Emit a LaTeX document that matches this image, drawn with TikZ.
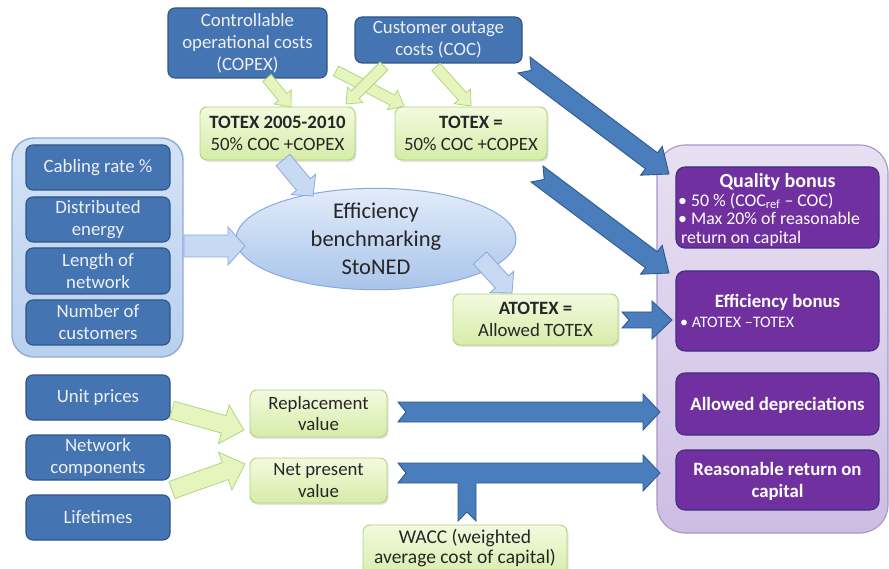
\documentclass[tikz,border=0pt]{standalone}
\usepackage{fontspec}
\setmainfont{Carlito}
\usetikzlibrary{shapes.geometric,shadows}

\definecolor{dkblue}{HTML}{4574B2}
\definecolor{dkblueline}{HTML}{2E5588}
\definecolor{boxtext}{HTML}{EDF0F5}
\definecolor{grtop}{HTML}{F4FADF}
\definecolor{grbot}{HTML}{D6ECA8}
\definecolor{grline}{HTML}{B2D27A}
\definecolor{purp}{HTML}{7030A0}
\definecolor{purpline}{HTML}{3E2F80}
\definecolor{lavtop}{HTML}{E8E0F2}
\definecolor{lavbot}{HTML}{CDBDE3}
\definecolor{lavline}{HTML}{A896C8}
\definecolor{lbtop}{HTML}{D4E3F6}
\definecolor{lbbot}{HTML}{B9D0EE}
\definecolor{lbline}{HTML}{8EABDA}
\definecolor{elltop}{HTML}{E2ECFA}
\definecolor{ellbot}{HTML}{A9C4EA}
\definecolor{bigarrow}{HTML}{4A7DBB}
\definecolor{bigarrowline}{HTML}{2D5A92}
\definecolor{lbarrow}{HTML}{C8DAF3}
\definecolor{lbarrowline}{HTML}{8AA9DA}
\definecolor{grarrow}{HTML}{E6F4BE}
\definecolor{grarrowline}{HTML}{B6D57E}

% Block arrow from #2 (tail) to #3 (tip):
% #4 shaft half width, #5 head half width, #6 head length, #7 tail notch depth
\newcommand\blockarrow[7][]{%
  \path (#2); \pgfgetlastxy{\baXa}{\baYa}%
  \path (#3); \pgfgetlastxy{\baXb}{\baYb}%
  \pgfmathsetmacro\baAng{atan2(\baYb-\baYa,\baXb-\baXa)}%
  \pgfmathsetmacro\baLen{veclen(\baXb-\baXa,\baYb-\baYa)}%
  \pgfmathsetmacro\baNeck{\baLen-#6}%
  \begin{scope}[shift={(#2)}, rotate=\baAng, x=1pt, y=1pt]
    \draw[#1] (0,-#4) -- (\baNeck,-#4) -- (\baNeck,-#5) -- (\baLen,0)
      -- (\baNeck,#5) -- (\baNeck,#4) -- (0,#4) -- (#7,0) -- cycle;
  \end{scope}}

\tikzset{
  bluebox/.style={draw=dkblueline, line width=1.1pt, fill=dkblue, rounded corners=7pt,
    text=boxtext, align=center, inner sep=0pt, font=\fontsize{18.8}{22}\selectfont},
  greenbox/.style={draw=grline, line width=0.9pt, top color=grtop, bottom color=grbot,
    rounded corners=7pt, align=center, inner sep=0pt, text=black!85,
    font=\fontsize{18.8}{21.5}\selectfont,
    drop shadow={opacity=0.22, shadow xshift=1.5pt, shadow yshift=-1.8pt}},
  purplebox/.style={draw=purpline, line width=1.1pt, fill=purp, rounded corners=9pt,
    inner sep=0pt},
  purpletitle/.style={text=white, font=\bfseries\fontsize{18.8}{22}\selectfont,
    align=center, inner sep=0pt},
  purplebullet/.style={text=white, font=\fontsize{16}{18.5}\selectfont,
    align=left, inner sep=0pt},
  bigarrowstyle/.style={draw=bigarrowline, line width=0.9pt, fill=bigarrow, line join=miter},
  lbarrowstyle/.style={draw=lbarrowline, line width=0.8pt, fill=lbarrow},
  grarrowstyle/.style={draw=grarrowline, line width=0.8pt, fill=grarrow}
}

\begin{document}
\begin{tikzpicture}[x=1pt,y=-1pt]
\useasboundingbox (0,0) rectangle (889,569);
\clip (0,0) rectangle (889,569);
\fill[white] (0,0) rectangle (889,569);

% containers
\node[draw=lbline, line width=1.4pt, top color=lbtop, bottom color=lbbot,
  rounded corners=22pt, minimum width=171pt, minimum height=219pt] (drivers) at (97.5,247.5) {};
\node[draw=lavline, line width=1.1pt, top color=lavtop, bottom color=lavbot,
  rounded corners=28pt, minimum width=231pt, minimum height=388pt] (outcome) at (772.5,339) {};

% cost inputs
\node[bluebox, minimum width=159pt, minimum height=70pt] (copex) at (247.5,43)
  {Controllable\\operational costs\\(COPEX)};
\node[bluebox, minimum width=167pt, minimum height=46pt] (coc) at (438.5,40)
  {Customer outage\\costs (COC)};

% totex boxes
\node[greenbox, minimum width=155pt, minimum height=53pt] (totexold) at (277.5,133.5)
  {\textbf{TOTEX 2005-2010}\\50\% COC +COPEX};
\node[greenbox, minimum width=152pt, minimum height=53pt] (totex) at (471,133.5)
  {\textbf{TOTEX =}\\50\% COC +COPEX};

% cost drivers
\node[bluebox, minimum width=144pt, minimum height=45pt] (cabling) at (98,167.5) {Cabling rate \%};
\node[bluebox, minimum width=144pt, minimum height=45pt] (distrib) at (98,219.5) {Distributed\\energy};
\node[bluebox, minimum width=144pt, minimum height=46pt] (length) at (98,271) {Length of\\network};
\node[bluebox, minimum width=144pt, minimum height=45pt] (customers) at (98,322.5) {Number of\\customers};

% benchmarking
\node[ellipse, draw=lbarrowline, line width=1pt, top color=elltop, bottom color=ellbot,
  minimum width=280pt, minimum height=98pt, inner sep=0pt, align=center,
  font=\fontsize{22.5}{28}\selectfont, text=black!85] (stoned) at (376,239)
  {Efficiency\\benchmarking\\StoNED};

\node[greenbox, minimum width=165pt, minimum height=51pt] (atotex) at (535.5,319.5)
  {\textbf{ATOTEX =}\\Allowed TOTEX};

% asset valuation
\node[bluebox, minimum width=144pt, minimum height=45pt] (unit) at (98,397.5) {Unit prices};
\node[bluebox, minimum width=144pt, minimum height=45pt] (netcomp) at (98,457.5) {Network\\components};
\node[bluebox, minimum width=144pt, minimum height=45pt] (lifetimes) at (98,517.5) {Lifetimes};

\node[greenbox, minimum width=137pt, minimum height=47pt] (replval) at (318.5,413.5)
  {Replacement\\value};
\node[greenbox, minimum width=137pt, minimum height=45pt] (npv) at (318.5,480.5)
  {Net present\\value};
\node[greenbox, minimum width=204pt, minimum height=54pt] (wacc) at (465,552) {};
\node[align=center, inner sep=0pt, text=black!85, font=\fontsize{19.5}{20.5}\selectfont]
  (wacct) at (465,548) {WACC (weighted\\average cost of capital)};

% revenue components
\node[purplebox, minimum width=203pt, minimum height=81pt] (quality) at (777.5,207.5) {};
\node[purpletitle, font=\bfseries\fontsize{20}{22}\selectfont] (qualityt) at (777.5,182) {Quality bonus};
\node[purplebullet, anchor=north west, font=\fontsize{17.8}{18.6}\selectfont] (qualityb) at (678,193)
  {• 50 \% (COC\textsubscript{ref} – COC)\\• Max 20\% of reasonable\\\hspace*{3pt}return on capital};

\node[purplebox, minimum width=203pt, minimum height=80pt] (effbonus) at (777.5,311) {};
\node[purpletitle] (effbonust) at (777.5,302) {Efficiency bonus};
\node[purplebullet, anchor=west] (effbonusb) at (680,322) {• ATOTEX –TOTEX};

\node[purplebox, minimum width=203pt, minimum height=62pt] (depr) at (777.5,404) {};
\node[purpletitle] (deprt) at (777.5,405) {Allowed depreciations};

\node[purplebox, minimum width=203pt, minimum height=60pt] (rrc) at (777.5,480) {};
\node[purpletitle] (rrct) at (777.5,481) {Reasonable return on\\capital};

% arrow end points
\coordinate (g1s) at (267,78);  \coordinate (g1e) at (291,107);
\coordinate (g2s) at (336,71);  \coordinate (g2e) at (404,106);
\coordinate (g3s) at (384,66);  \coordinate (g3e) at (346,104);
\coordinate (g4s) at (436,67);  \coordinate (g4e) at (471,106);
\coordinate (g5s) at (172,410); \coordinate (g5e) at (244,430);
\coordinate (g6s) at (172,490); \coordinate (g6e) at (245,464);
\coordinate (b1s) at (283,160); \coordinate (b1e) at (313,196);
\coordinate (b2s) at (184,246); \coordinate (b2e) at (245,246);
\coordinate (b3s) at (480,258); \coordinate (b3e) at (512,293);
\coordinate (B1s) at (524,65);  \coordinate (B1e) at (669,174);
\coordinate (B2s) at (537,174); \coordinate (B2e) at (669,273);
\coordinate (B3s) at (622,320); \coordinate (B3e) at (672,320);
\coordinate (B4s) at (398,412); \coordinate (B4e) at (660,412);
\coordinate (B5s) at (398,473); \coordinate (B5e) at (660,473);

% light green input arrows
\blockarrow[grarrowstyle]{g1s}{g1e}{5.5}{11}{13}{0}
\blockarrow[grarrowstyle]{g2s}{g2e}{5.5}{11}{13}{0}
\blockarrow[grarrowstyle]{g3s}{g3e}{5.5}{11}{13}{0}
\blockarrow[grarrowstyle]{g4s}{g4e}{5.5}{11}{13}{0}
\blockarrow[grarrowstyle]{g5s}{g5e}{9}{20}{21}{0}
\blockarrow[grarrowstyle]{g6s}{g6e}{9}{20}{21}{0}

% light blue arrows around the benchmarking
\blockarrow[lbarrowstyle]{b1s}{b1e}{9}{16}{15}{0}
\blockarrow[lbarrowstyle]{b2s}{b2e}{11}{19}{17}{0}
\blockarrow[lbarrowstyle]{b3s}{b3e}{9}{16}{15}{0}

% dark blue arrows into the revenue components
\blockarrow[bigarrowstyle]{B1s}{B1e}{10}{18}{22}{9}
\blockarrow[bigarrowstyle]{B2s}{B2e}{10}{18}{22}{9}
\blockarrow[bigarrowstyle]{B3s}{B3e}{8}{19}{20}{7}
\blockarrow[bigarrowstyle]{B4s}{B4e}{10}{18}{17}{8}
\blockarrow[bigarrowstyle]{B5s}{B5e}{10}{18}{17}{8}

% WACC feeding into the net present value arrow
\coordinate (w1) at (458,482);
\coordinate (w2) at (458,521);
\coordinate (w3) at (467,512);
\coordinate (w4) at (476,521);
\coordinate (w5) at (476,482);
\fill[bigarrow] (w1) -- (w2) -- (w3) -- (w4) -- (w5) -- cycle;
\draw[bigarrowline, line width=0.9pt] ([yshift=-1pt]w1) -- (w2) -- (w3) -- (w4) -- ([yshift=-1pt]w5);
\end{tikzpicture}
\end{document}
